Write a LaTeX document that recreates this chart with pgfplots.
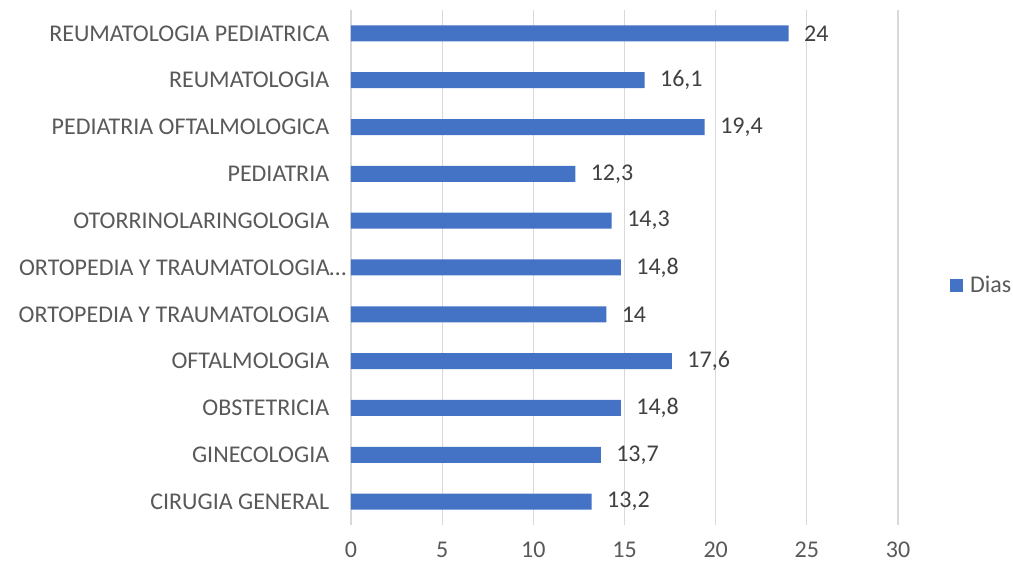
\documentclass[border=0pt]{standalone}
\usepackage{pgfplots}
\pgfplotsset{compat=1.18}
\usepackage{fontspec}
\setmainfont{Carlito}
\definecolor{barblue}{HTML}{4472C4}
\definecolor{gridgray}{HTML}{D9D9D9}
\definecolor{txtgray}{HTML}{595959}
\definecolor{lblgray}{HTML}{404040}
\begin{document}
\begin{tikzpicture}[x=1pt,y=1pt]
\path[use as bounding box] (0,0) rectangle (1013,565);
\begin{axis}[
  at={(351pt,555pt)}, anchor=north west,
  scale only axis, width=547pt, height=515pt,
  xbar, bar width=16pt,
  xmin=0, xmax=30, xtick={0,5,...,30},
  ymin=-0.5, ymax=10.5, ytick={0,...,10},
  yticklabels={CIRUGIA GENERAL,GINECOLOGIA,OBSTETRICIA,OFTALMOLOGIA,ORTOPEDIA Y TRAUMATOLOGIA,{ORTOPEDIA Y TRAUMATOLOGIA…\hspace*{-17pt}},OTORRINOLARINGOLOGIA,PEDIATRIA,PEDIATRIA OFTALMOLOGICA,REUMATOLOGIA,REUMATOLOGIA PEDIATRICA},
  axis line style={draw=none},
  major tick style={draw=none},
  xmajorgrids, grid style={gridgray, line width=1.3pt},
  tick label style={font=\fontsize{24}{28}\selectfont, text=txtgray},
  /pgf/number format/assume math mode=true,
  xticklabel style={yshift=-16pt, inner ysep=1pt},
  yticklabel style={xshift=-14pt},
  nodes near coords,
  nodes near coords style={font=\fontsize{24}{28}\selectfont, text=lblgray, anchor=west, xshift=12pt,
    /pgf/number format/.cd, use comma, precision=1, assume math mode=true},
  legend style={at={(1.095,0.466)}, anchor=west, draw=none, fill=none, font=\fontsize{24}{28}\selectfont, text=txtgray,
    inner sep=0pt, column sep=5pt},
  legend cell align=left,
]
\addplot[fill=barblue, draw=none,
  legend image code/.code={\fill[barblue] (0pt,-6.5pt) rectangle (13pt,6.5pt);}] coordinates {
  (13.2,0) (13.7,1) (14.8,2) (17.6,3) (14,4) (14.8,5) (14.3,6) (12.3,7) (19.4,8) (16.1,9) (24,10)
};
\addlegendentry{Dias}
\end{axis}
\end{tikzpicture}
\end{document}
